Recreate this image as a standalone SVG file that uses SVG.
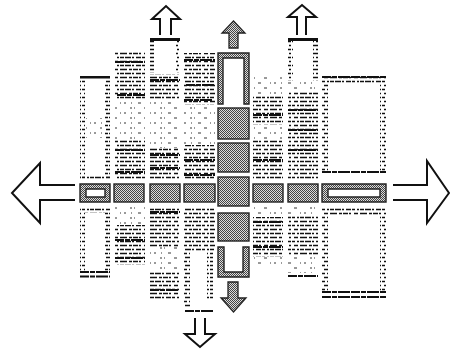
<svg xmlns="http://www.w3.org/2000/svg" width="450" height="351" viewBox="0 0 450 351">
<defs>
<pattern id="chk" width="2" height="2" patternUnits="userSpaceOnUse">
<rect width="2" height="2" fill="#dcdcdc"/><rect width="1" height="1" fill="#444"/><rect x="1" y="1" width="1" height="1" fill="#444"/>
</pattern>
<pattern id="tx" width="30" height="8" patternUnits="userSpaceOnUse">
<path d="M0 1.5H30" stroke="#111" stroke-width="1.5" stroke-dasharray="4 1 6 1 2 2 5 1 3 2 2 1"/>
<path d="M0 5.5H30" stroke="#111" stroke-width="1.3" stroke-dasharray="7 2 3 1 5 1 2 3 4 2"/>
</pattern>
<pattern id="sp" width="30" height="10" patternUnits="userSpaceOnUse">
<path d="M0 3H30" stroke="#333" stroke-width="1" stroke-dasharray="1 3 2 5 1 6 3 9"/>
<path d="M0 8H30" stroke="#333" stroke-width="1" stroke-dasharray="0 10 2 2 1 9 3 3"/>
</pattern>
</defs>
<style>
.sq{fill:url(#chk);stroke:#222;stroke-width:1.4}
.ar{fill:#fff;stroke:#111;stroke-width:2;stroke-linejoin:miter}
.ga{fill:url(#chk);stroke:#222;stroke-width:1.3}
.d{fill:url(#tx)}
.s{fill:url(#sp)}
.h{stroke:#111;stroke-width:2;stroke-dasharray:9 1 5 1 12 1}
.t{fill:#111}
</style>
<rect width="450" height="351" fill="#fff"/>

<g id="text-columns-top">
<g id="colA">
<rect class="t" x="80" y="76" width="30" height="2.5"/>
<rect class="d" x="80" y="80" width="5" height="98"/>
<rect class="d" x="105" y="80" width="5" height="98"/>
<rect class="s" x="86" y="118" width="18" height="20"/>
<rect class="d" x="80" y="176" width="30" height="4"/>
</g>
<g id="colB">
<rect class="d" x="115" y="52" width="30" height="48"/>
<rect class="s" x="115" y="100" width="30" height="40"/>
<rect class="d" x="115" y="140" width="30" height="40"/>
<path class="h" d="M115 62H145M117 95H145M115 150H145M115 172H145"/>
</g>
<g id="colC">
<rect class="t" x="150" y="38" width="30" height="3"/>
<rect class="d" x="150" y="41" width="4" height="32"/>
<rect class="d" x="176" y="41" width="4" height="32"/>
<rect class="d" x="150" y="74" width="30" height="26"/>
<rect class="s" x="150" y="100" width="30" height="48"/>
<rect class="d" x="150" y="148" width="30" height="32"/>
<path class="h" d="M150 80H180M150 155H180M150 168H180"/>
</g>
<g id="colD">
<rect class="d" x="184" y="53" width="31" height="52"/>
<rect class="s" x="184" y="105" width="31" height="40"/>
<rect class="d" x="184" y="145" width="31" height="35"/>
<path class="h" d="M184 60H215M186 85H215M184 100H213M184 160H215M184 175H215"/>
</g>
<g id="colE">
<rect class="s" x="253" y="75" width="30" height="20"/>
<rect class="d" x="253" y="95" width="30" height="30"/>
<rect class="s" x="253" y="125" width="30" height="15"/>
<rect class="d" x="253" y="140" width="30" height="40"/>
<path class="h" d="M253 115H283M253 160H283"/>
</g>
<g id="colF">
<rect class="t" x="288" y="38" width="30" height="3"/>
<rect class="d" x="288" y="41" width="5" height="40"/>
<rect class="d" x="313" y="41" width="5" height="40"/>
<rect class="s" x="288" y="82" width="30" height="10"/>
<rect class="d" x="288" y="92" width="30" height="88"/>
<path class="h" d="M288 110H318M288 130H318M288 150H318"/>
</g>
<g id="colG">
<rect class="d" x="322" y="75" width="64" height="8"/>
<path class="h" d="M322 77H386"/>
<rect class="d" x="322" y="83" width="6" height="88"/>
<rect class="d" x="380" y="83" width="6" height="88"/>
<path class="h" d="M322 172H386"/>
</g>
</g>

<g id="text-columns-bottom">
<g id="colA2">
<rect class="d" x="80" y="207" width="30" height="6"/>
<rect class="d" x="80" y="213" width="5" height="60"/>
<rect class="d" x="105" y="213" width="5" height="60"/>
<path class="h" d="M80 272H110M80 276.5H110"/>
</g>
<g id="colB2">
<rect class="s" x="115" y="207" width="30" height="18"/>
<rect class="d" x="115" y="225" width="30" height="40"/>
<path class="h" d="M115 240H145M115 258H145"/>
</g>
<g id="colC2">
<rect class="d" x="150" y="207" width="30" height="40"/>
<rect class="s" x="150" y="247" width="30" height="25"/>
<rect class="d" x="150" y="272" width="30" height="28"/>
<path class="h" d="M150 212H180M150 290H178"/>
</g>
<g id="colD2">
<rect class="d" x="184" y="207" width="31" height="45"/>
<rect class="d" x="184" y="252" width="6" height="55"/>
<rect class="d" x="207" y="252" width="6" height="48"/>
<path class="h" d="M185 311H213"/>
</g>
<g id="colE2">
<rect class="s" x="253" y="207" width="30" height="10"/>
<rect class="d" x="253" y="217" width="30" height="40"/>
<rect class="s" x="253" y="257" width="30" height="10"/>
<path class="h" d="M253 222H283M253 247H283"/>
</g>
<g id="colF2">
<rect class="s" x="288" y="207" width="30" height="8"/>
<rect class="d" x="288" y="215" width="30" height="40"/>
<rect class="s" x="288" y="255" width="30" height="18"/>
<path class="h" d="M288 276H318"/>
</g>
<g id="colG2">
<rect class="d" x="322" y="207" width="64" height="8"/>
<rect class="d" x="322" y="215" width="6" height="78"/>
<rect class="d" x="380" y="215" width="6" height="78"/>
<path class="h" d="M322 292H386M322 297H386"/>
</g>
</g>

<g id="row-squares">
<path class="sq" fill-rule="evenodd" d="M80 184H110V202H80ZM86 189V197H105V189Z"/>
<rect class="sq" x="114" y="184" width="30" height="18"/>
<rect class="sq" x="150" y="184" width="30" height="18"/>
<rect class="sq" x="184" y="184" width="31" height="18"/>
<rect class="sq" x="253" y="184" width="30" height="18"/>
<rect class="sq" x="288" y="184" width="30" height="18"/>
<path class="sq" fill-rule="evenodd" d="M322 184H386V202H322ZM328 189V197H380V189Z"/>
</g>

<g id="column-squares">
<path class="sq" d="M218 104V53H249V104H244V58H223V104Z"/>
<rect class="sq" x="218" y="108" width="31" height="31"/>
<rect class="sq" x="218" y="143" width="31" height="29"/>
<rect class="sq" x="218" y="177" width="31" height="29"/>
<rect class="sq" x="218" y="213" width="31" height="28"/>
<path class="sq" d="M218 247V277H249V247H243V272H224V247Z"/>
</g>

<g id="arrows">
<path class="ar" d="M75 185H40V163L12 193L40 223V200H75"/>
<path class="ar" d="M393 185H427V161L449 193L427 223V200H393"/>
<path class="ar" d="M160 35V19H152L166 6L180 19H171V35"/>
<path class="ar" d="M297 35V17H288L302 5L316 17H306V35"/>
<path class="ar" d="M195 318V334H185L200 347L215 334H205V318"/>
<path class="ga" d="M229 48V33H222L233.5 21L245 33H238V48Z"/>
<path class="ga" d="M228 282V298H221L233.5 312L246 298H238V282Z"/>
</g>
</svg>
